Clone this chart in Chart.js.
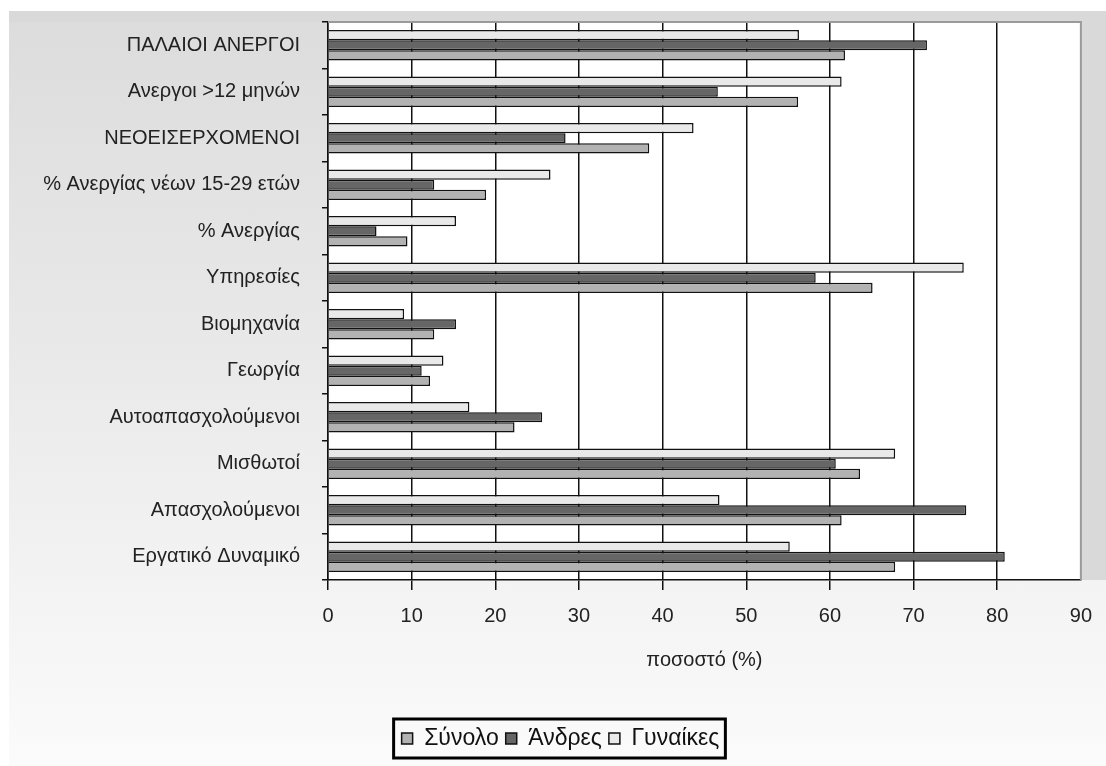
<!DOCTYPE html>
<html lang="el">
  <head>
    <meta charset="UTF-8" />
    <script src="https://cdn.jsdelivr.net/npm/chart.js@4.4.1/dist/chart.umd.min.js"></script>
    <title>ποσοστό (%)</title>
    <style>
      html,
      body {
        margin: 0;
        padding: 0;
        background: #fff;
      }

      .panel {
        position: absolute;
        left: 9px;
        top: 11px;
        width: 1097px;
        height: 755px;
        background: linear-gradient(180deg, #dcdcdc 0%, #e9e9e9 45%, #fbfbfb 100%);
      }

      .container {
        position: absolute;
        left: 0;
        top: 0;
        width: 1106px;
        height: 766px;
      }
    </style>
  </head>
  <body>
    <div class="panel"></div>
    <div class="container">
      <canvas id="chart"></canvas>
    </div>
    <script>
      const categories = [
        'ΠΑΛΑΙΟΙ ΑΝΕΡΓΟΙ',
        'Ανεργοι >12 μηνών',
        'ΝΕΟΕΙΣΕΡΧΟΜΕΝΟΙ',
        '% Ανεργίας νέων 15-29 ετών',
        '% Ανεργίας',
        'Υπηρεσίες',
        'Βιομηχανία',
        'Γεωργία',
        'Αυτοαπασχολούμενοι',
        'Μισθωτοί',
        'Απασχολούμενοι',
        'Εργατικό Δυναμικό',
      ]
      const women = [56.3, 61.4, 43.7, 26.6, 15.3, 76.0, 9.1, 13.8, 16.9, 67.8, 46.8, 55.2]
      const men = [71.6, 46.6, 28.4, 12.7, 5.8, 58.3, 15.3, 11.2, 25.6, 60.7, 76.3, 80.9]
      const total = [61.8, 56.2, 38.4, 18.9, 9.5, 65.1, 12.7, 12.2, 22.3, 63.6, 61.4, 67.8]
      const xTicks = [0, 10, 20, 30, 40, 50, 60, 70, 80, 90]

      Chart.defaults.font.family = "'Liberation Sans', Arial, sans-serif"
      Chart.defaults.color = '#222'

      // white plot area, grey strips round it, box round the legend
      const frame = {
        id: 'frame',
        afterLayout(chart) {
          // legend sits a little right of the plot centre
          chart.legend.left += 20
          chart.legend.right += 20
        },
        beforeDraw(chart) {
          const { ctx, chartArea: a } = chart
          ctx.save()
          ctx.fillStyle = '#d9d9d9'
          ctx.fillRect(9, 11, chart.width - 9, a.top - 11)
          ctx.fillRect(a.right, 11, chart.width - a.right, a.bottom - 11)
          ctx.fillStyle = '#fff'
          ctx.fillRect(a.left, a.top, a.right - a.left, a.bottom - a.top)
          ctx.restore()
        },
        afterDraw(chart) {
          const { ctx, chartArea: a } = chart
          ctx.save()
          ctx.strokeStyle = '#9a9a9a'
          ctx.lineWidth = 2
          ctx.beginPath()
          ctx.moveTo(a.left, a.top)
          ctx.lineTo(a.right, a.top)
          ctx.lineTo(a.right, a.bottom)
          ctx.stroke()

          const boxes = chart.legend.legendHitBoxes
          if (boxes && boxes.length) {
            const l = Math.min(...boxes.map((b) => b.left))
            const r = Math.max(...boxes.map((b) => b.left + b.width))
            const t = Math.min(...boxes.map((b) => b.top))
            const btm = Math.max(...boxes.map((b) => b.top + b.height))
            ctx.strokeStyle = '#000'
            ctx.lineWidth = 3
            ctx.strokeRect(l - 8, t - 8, r - l + 14, btm - t + 16)
          }
          ctx.restore()
        },
      }

      new Chart(document.getElementById('chart'), {
        type: 'bar',
        data: {
          labels: categories,
          datasets: [
            { label: 'Γυναίκες', data: women, backgroundColor: '#e9e9e9' },
            { label: 'Άνδρες', data: men, backgroundColor: '#666666' },
            { label: 'Σύνολο', data: total, backgroundColor: '#b2b2b2' },
          ],
        },
        options: {
          indexAxis: 'y',
          responsive: true,
          maintainAspectRatio: false,
          animation: false,
          datasets: {
            bar: {
              borderColor: '#111',
              borderWidth: 1.5,
              categoryPercentage: 0.66,
              barPercentage: 1,
            },
          },
          layout: {
            padding: { top: 22, right: 25, left: 0, bottom: 6 },
          },
          plugins: {
            legend: {
              position: 'bottom',
              reverse: true,
              labels: {
                boxWidth: 11,
                boxHeight: 11,
                padding: 7,
                color: '#111',
                font: { size: 23 },
              },
            },
            tooltip: { enabled: false },
          },
          scales: {
            x: {
              min: 0,
              max: 90,
              afterBuildTicks: (s) => {
                s.ticks = xTicks.map((v) => ({ value: v }))
              },
              afterFit: (s) => {
                s.height = 140
              },
              grid: {
                color: (c) => (c.tick && c.tick.value === 90 ? 'rgba(0,0,0,0)' : '#111'),
                lineWidth: 1.5,
                tickLength: 10,
              },
              border: { display: true, color: '#111', width: 1.5 },
              ticks: { font: { size: 20 }, padding: 14, color: '#222' },
              title: {
                display: true,
                text: 'ποσοστό (%)',
                font: { size: 20 },
                color: '#222',
                padding: { top: 4, bottom: 48 },
              },
            },
            y: {
              afterFit: (s) => {
                s.width = 328
                s.paddingTop = 0
                s.paddingBottom = 0
              },
              grid: {
                drawOnChartArea: false,
                color: '#111',
                lineWidth: 1.5,
                tickLength: 6,
              },
              border: { display: true, color: '#111', width: 1.5 },
              ticks: { font: { size: 20 }, padding: 22, color: '#222' },
            },
          },
        },
        plugins: [frame],
      })
    </script>
  </body>
</html>
